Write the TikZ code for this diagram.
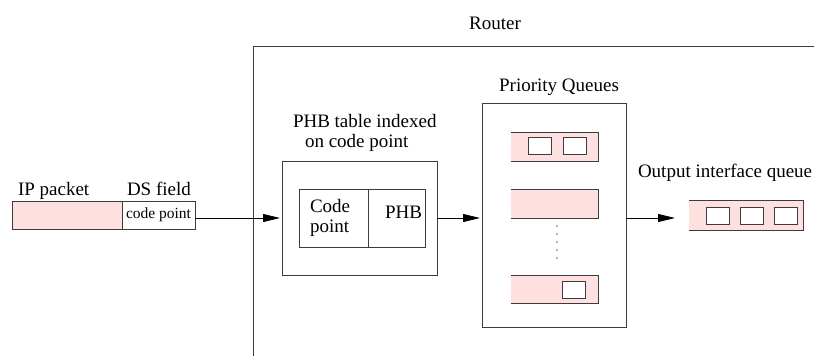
\documentclass[tikz,border=0pt]{standalone}
\usepackage{fontspec}
\setmainfont{Liberation Serif}
\usetikzlibrary{arrows.meta}
\definecolor{qpink}{RGB}{255,224,224}
\definecolor{lcol}{RGB}{60,60,60}
\tikzset{
  box/.style={draw=lcol, line width=1pt, rectangle, inner sep=0pt, outer sep=0pt},
  bar/.style={fill=qpink, rectangle, inner sep=0pt, outer sep=0pt},
  cell/.style={draw=lcol, line width=1pt, fill=white, rectangle, inner sep=0pt, outer sep=0pt, minimum width=23pt, minimum height=17pt},
  lbl/.style={inner sep=0pt, outer sep=0pt, font=\fontsize{19}{22}\selectfont},
  small/.style={inner sep=0pt, outer sep=0pt, font=\fontsize{15.5}{18}\selectfont},
  conn/.style={draw=black, line width=0.8pt, -{Triangle[length=17pt,width=8pt]}},
  opentop/.style={draw=lcol, line width=1pt}
}
\begin{document}
\begin{tikzpicture}[x=1pt,y=-1pt]
\useasboundingbox (0,0) rectangle (814,356);
% Router
\coordinate (rtr) at (814,46);
\coordinate (rbl) at (253,356);
\draw[opentop] (rtr) -- (rtr -| rbl) -- (rbl);
\node[lbl, anchor=base] (router) at (495,29) {Router};

% IP packet
\node[box, fill=qpink, minimum width=110pt, minimum height=28pt] (pkt) at (67,215) {};
\node[box, fill=white, minimum width=73pt, minimum height=28pt] (ds) at (158.5,215) {};
\node[small, anchor=base] (cp) at (158.5,218) {code point};
\node[lbl, anchor=base west] (iplbl) at (18,195) {IP packet};
\node[lbl, anchor=base west] (dslbl) at (127,195) {DS field};

% PHB table
\node[box, minimum width=155pt, minimum height=114pt] (phb) at (359.5,218) {};
\node[box, minimum width=69pt, minimum height=58pt] (cpcell) at (333.5,218) {};
\node[box, minimum width=57pt, minimum height=58pt] (phbcell) at (396.5,218) {};
\node[lbl, anchor=base west] (code) at (310,212) {Code};
\node[lbl, anchor=base west] (point) at (310,232) {point};
\node[lbl, anchor=base west] (phbtxt) at (385,218) {PHB};
\node[lbl, anchor=base west] (t1) at (293,127) {PHB table indexed};
\node[lbl, anchor=base west] (t2) at (305,147) {on code point};

% Priority queues
\node[box, minimum width=144pt, minimum height=224pt] (pq) at (554,215) {};
\node[lbl, anchor=base] (pqlbl) at (559,91) {Priority Queues};
\node[bar, minimum width=87pt, minimum height=29pt] (q1) at (554.5,146.5) {};
\node[bar, minimum width=87pt, minimum height=29pt] (q2) at (554.5,203.5) {};
\node[bar, minimum width=87pt, minimum height=28pt] (q3) at (554.5,289) {};
\foreach \q in {q1,q2,q3}
  \draw[opentop] (\q.north west) -- (\q.north east) -- (\q.south east) -- (\q.south west);
\node[cell] (q1a) at (539.5,146) {};
\node[cell] (q1b) at (574.5,146) {};
\node[cell] (q3a) at (574,290) {};
\foreach \yy in {226,234,242,250,258}
  \fill[black!60] (557,\yy) circle (0.9pt);

% Output queue
\node[lbl, anchor=base west] (outlbl) at (638,177) {Output interface queue};
\node[bar, minimum width=114pt, minimum height=30pt] (out) at (746,215) {};
\draw[opentop] (out.north west) -- (out.north east) -- (out.south east) -- (out.south west);
\node[cell] (o1) at (717.5,215.5) {};
\node[cell] (o2) at (751.5,215.5) {};
\node[cell] (o3) at (786,215.5) {};

% connectors
\draw[conn, shorten >=2pt] (ds.east |- phb.west) -- (phb.west);
\draw[conn, shorten >=2pt] (phb.east) -- (phb.east -| pq.west);
\draw[conn, shorten >=14pt] (pq.east |- phb.east) -- (out.west |- phb.east);
\end{tikzpicture}
\end{document}
